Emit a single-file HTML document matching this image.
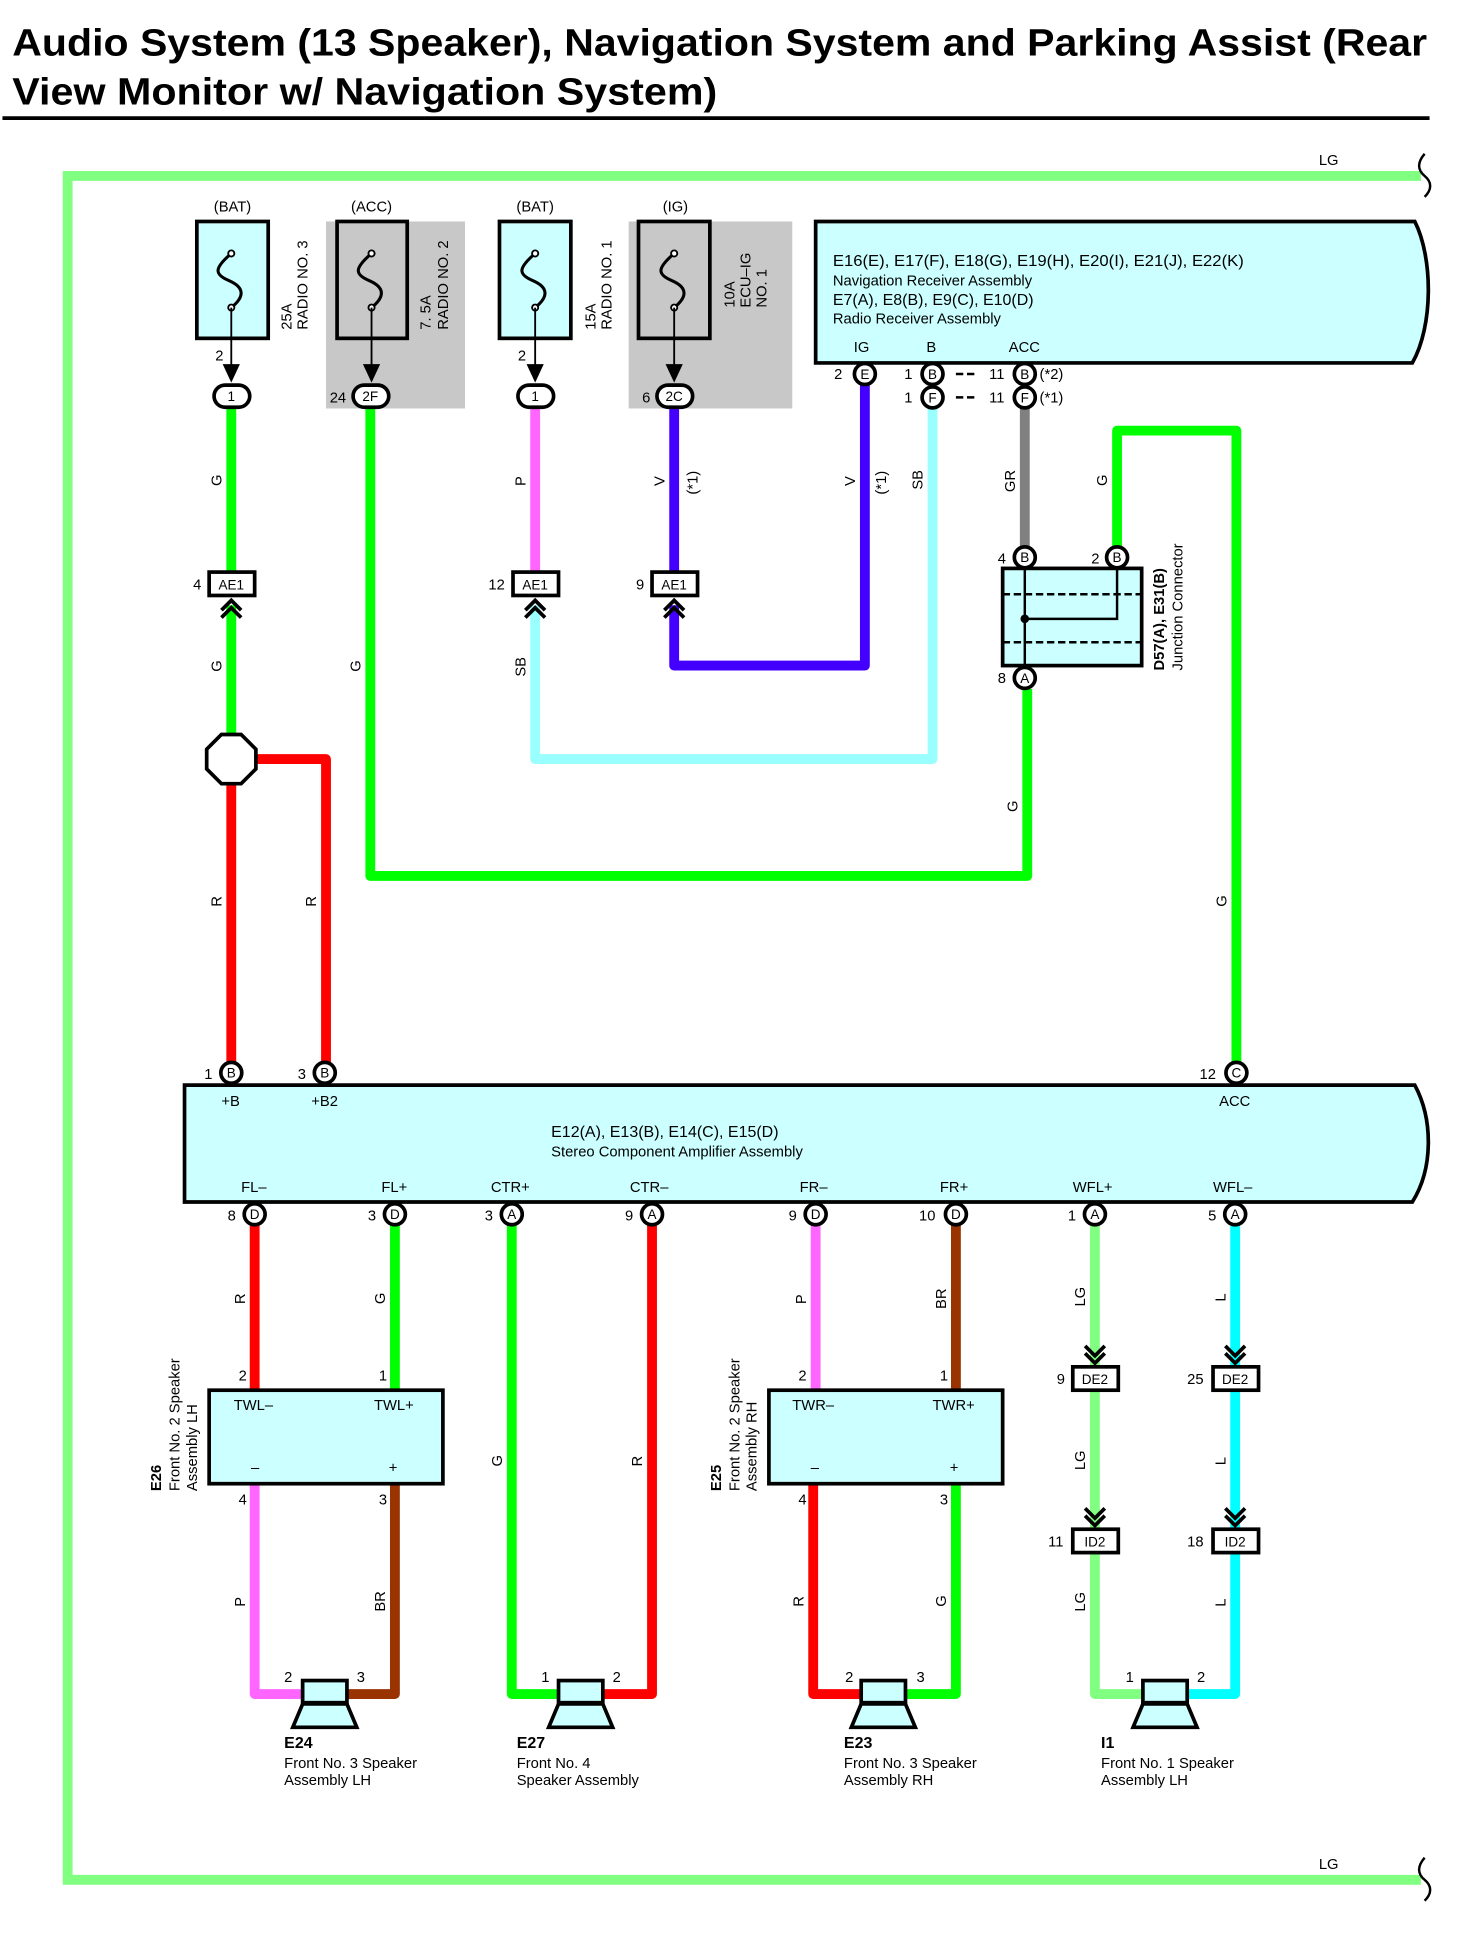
<!DOCTYPE html>
<html><head><meta charset="utf-8"><style>
html,body{margin:0;padding:0;background:#fff;}
svg{display:block;}
text{font-family:"Liberation Sans",sans-serif;fill:#000;}
</style></head><body>
<svg width="1464" height="1950" viewBox="0 0 1190 1585" xmlns="http://www.w3.org/2000/svg">
<defs>
<g id="fuse"><path d="M0,-22 C-14,-10 -14,-5 -2,0 C12,6 10,14 0,22" fill="none" stroke="#000" stroke-width="2.5"/><circle cx="0" cy="-22" r="2.5" fill="#fff" stroke="#000" stroke-width="1.5"/><circle cx="0" cy="22" r="2.5" fill="#fff" stroke="#000" stroke-width="1.5"/></g>
<g id="spk"><rect x="-18" y="-11" width="36" height="18" fill="#ccffff" stroke="#000" stroke-width="3"/><path d="M-18,8 L18,8 L26,27 L-26,27 Z" fill="#ccffff" stroke="#000" stroke-width="3"/></g>
<g id="chevU"><path d="M-8,8 L0,0 L8,8 M-8,14 L0,6 L8,14" fill="none" stroke="#000" stroke-width="3"/></g>
<g id="chevD"><path d="M-8,-8 L0,0 L8,-8 M-8,-14 L0,-6 L8,-14" fill="none" stroke="#000" stroke-width="3"/></g>
</defs>

<!-- Title -->
<text x="10" y="45" font-size="31" font-weight="bold" textLength="1150" lengthAdjust="spacingAndGlyphs">Audio System (13 Speaker), Navigation System and Parking Assist (Rear</text>
<text x="10" y="85" font-size="31" font-weight="bold" textLength="573" lengthAdjust="spacingAndGlyphs">View Monitor w/ Navigation System)</text>
<line x1="2" y1="96" x2="1162" y2="96" stroke="#000" stroke-width="3"/>

<!-- LG frame -->
<path d="M1155,143 L55,143 L55,1528 L1155,1528" fill="none" stroke="#80ff80" stroke-width="8"/>
<path d="M1158,125 C1152,132 1152,138 1158,143 C1164,148 1164,154 1158,160" fill="none" stroke="#000" stroke-width="2"/>
<path d="M1158,1510 C1152,1517 1152,1523 1158,1528 C1164,1533 1164,1539 1158,1545" fill="none" stroke="#000" stroke-width="2"/>
<text x="1072" y="134" font-size="12">LG</text>
<text x="1072" y="1519" font-size="12">LG</text>

<!-- gray areas -->
<rect x="265" y="180" width="113" height="152" fill="#c8c8c8"/>
<rect x="511" y="180" width="133" height="152" fill="#c8c8c8"/>

<!-- wires upper -->
<g fill="none" stroke-width="8" stroke-linejoin="round">
<path d="M188,330 L188,466" stroke="#00ff00"/>
<path d="M188,492 L188,600" stroke="#00ff00"/>
<path d="M188,635 L188,864 M205,617 L265,617 L265,864" stroke="#ff0000"/>
<path d="M301,330 L301,712 L835,712 L835,560" stroke="#00ff00"/>
<path d="M435,330 L435,466" stroke="#ff66ff"/>
<path d="M435,492 L435,617 L758,617 L758,330" stroke="#99ffff"/>
<path d="M548,330 L548,466" stroke="#4400ff"/>
<path d="M548,492 L548,541 L703,541 L703,313" stroke="#4400ff"/>
<path d="M833,331 L833,445" stroke="#808080"/>
<path d="M908,445 L908,350 L1005,350 L1005,864" stroke="#00ff00"/>
</g>

<!-- fuses -->
<rect x="160" y="180" width="58" height="95" fill="#ccffff" stroke="#000" stroke-width="3"/>
<rect x="274" y="180" width="57" height="95" fill="#c8c8c8" stroke="#000" stroke-width="3"/>
<rect x="406" y="180" width="58" height="95" fill="#ccffff" stroke="#000" stroke-width="3"/>
<rect x="519" y="180" width="58" height="95" fill="#c8c8c8" stroke="#000" stroke-width="3"/>
<use href="#fuse" x="188" y="228"/><use href="#fuse" x="302" y="228"/><use href="#fuse" x="435" y="228"/><use href="#fuse" x="548" y="228"/>
<g stroke="#000" stroke-width="1.5">
<line x1="188" y1="250" x2="188" y2="305"/><line x1="302" y1="250" x2="302" y2="305"/><line x1="435" y1="250" x2="435" y2="305"/><line x1="548" y1="250" x2="548" y2="305"/>
</g>
<g fill="#000">
<path d="M181,296 L195,296 L188,311 Z"/><path d="M295,296 L309,296 L302,311 Z"/><path d="M428,296 L442,296 L435,311 Z"/><path d="M541,296 L555,296 L548,311 Z"/>
</g>
<g font-size="12" text-anchor="middle">
<text x="189" y="172">(BAT)</text><text x="302" y="172">(ACC)</text><text x="435" y="172">(BAT)</text><text x="549" y="172">(IG)</text>
</g>
<g font-size="12">
<text transform="translate(237,268) rotate(-90)">25A</text><text transform="translate(250,268) rotate(-90)">RADIO NO. 3</text>
<text transform="translate(350,268) rotate(-90)">7. 5A</text><text transform="translate(364,268) rotate(-90)">RADIO NO. 2</text>
<text transform="translate(484,268) rotate(-90)">15A</text><text transform="translate(497,268) rotate(-90)">RADIO NO. 1</text>
<text transform="translate(597,250) rotate(-90)">10A</text><text transform="translate(610,250) rotate(-90)">ECU–IG</text><text transform="translate(623,250) rotate(-90)">NO. 1</text>
<text x="175" y="293">2</text><text x="421" y="293">2</text>
<text x="268" y="327">24</text><text x="522" y="327">6</text>
</g>
<!-- fuse connectors -->
<g stroke="#000" stroke-width="3" fill="#fff">
<rect x="174" y="313" width="29" height="18" rx="9"/><rect x="287" y="313" width="29" height="18" rx="9"/>
<rect x="421" y="313" width="29" height="18" rx="9"/><rect x="534" y="313" width="29" height="18" rx="9"/>
</g>
<g font-size="11" text-anchor="middle">
<text x="188" y="326">1</text><text x="301" y="326">2F</text><text x="435" y="326">1</text><text x="548" y="326">2C</text>
</g>

<!-- Nav box -->
<path d="M663,180 L1150,180 C1165,210 1165,265 1148,295 L663,295 Z" fill="#ccffff" stroke="#000" stroke-width="3"/>
<g font-size="13">
<text x="677" y="216" textLength="334" lengthAdjust="spacingAndGlyphs">E16(E), E17(F), E18(G), E19(H), E20(I), E21(J), E22(K)</text>
<text x="677" y="232" font-size="12">Navigation Receiver Assembly</text>
<text x="677" y="248">E7(A), E8(B), E9(C), E10(D)</text>
<text x="677" y="263" font-size="12">Radio Receiver Assembly</text>
<text x="694" y="286" font-size="12">IG</text><text x="753" y="286" font-size="12">B</text><text x="820" y="286" font-size="12">ACC</text>
</g>
<g stroke="#000" stroke-width="3" fill="#fff">
<circle cx="703" cy="304" r="8.5"/><circle cx="758" cy="304" r="8.5"/><circle cx="833" cy="304" r="8.5"/>
<circle cx="758" cy="323" r="8.5"/><circle cx="833" cy="323" r="8.5"/>
</g>
<g font-size="11" text-anchor="middle">
<text x="703" y="308">E</text><text x="758" y="308">B</text><text x="833" y="308">B</text><text x="758" y="327">F</text><text x="833" y="327">F</text>
</g>
<g font-size="12">
<text x="678" y="308">2</text><text x="735" y="308">1</text><text x="735" y="327">1</text>
<text x="804" y="308">11</text><text x="804" y="327">11</text>
<text x="845" y="308">(*2)</text><text x="845" y="327">(*1)</text>
</g>
<g stroke="#000" stroke-width="2"><line x1="777" y1="304" x2="795" y2="304" stroke-dasharray="6,3"/><line x1="777" y1="323" x2="795" y2="323" stroke-dasharray="6,3"/></g>

<!-- AE1 connectors -->
<g stroke="#000" stroke-width="3" fill="#fff">
<rect x="170" y="465" width="37" height="19"/><rect x="417" y="465" width="37" height="19"/><rect x="530" y="465" width="37" height="19"/>
</g>
<g font-size="11" text-anchor="middle"><text x="188" y="479">AE1</text><text x="435" y="479">AE1</text><text x="548" y="479">AE1</text></g>
<g font-size="12"><text x="157" y="479">4</text><text x="397" y="479">12</text><text x="517" y="479">9</text></g>
<use href="#chevU" x="188" y="488"/><use href="#chevU" x="435" y="488"/><use href="#chevU" x="548" y="488"/>

<!-- splice -->
<path d="M180,597 L196,597 L208,609 L208,625 L196,637 L180,637 L168,625 L168,609 Z" fill="#fff" stroke="#000" stroke-width="3"/>

<!-- Junction connector -->
<rect x="815" y="462" width="113" height="79" fill="#ccffff" stroke="#000" stroke-width="3"/>
<g stroke="#000" stroke-width="2"><line x1="815" y1="483" x2="928" y2="483" stroke-dasharray="6,3"/><line x1="815" y1="522" x2="928" y2="522" stroke-dasharray="6,3"/>
<path d="M833,462 L833,541 M908,462 L908,503 L833,503" fill="none"/></g>
<circle cx="833" cy="503" r="3.5" fill="#000"/>
<g stroke="#000" stroke-width="3" fill="#fff"><circle cx="833" cy="453" r="8.5"/><circle cx="908" cy="453" r="8.5"/><circle cx="833" cy="551" r="8.5"/></g>
<g font-size="11" text-anchor="middle"><text x="833" y="457">B</text><text x="908" y="457">B</text><text x="833" y="555">A</text></g>
<g font-size="12"><text x="811" y="458">4</text><text x="887" y="458">2</text><text x="811" y="555">8</text></g>
<text transform="translate(946,545) rotate(-90)" font-size="12" font-weight="bold">D57(A), E31(B)</text>
<text transform="translate(961,545) rotate(-90)" font-size="12">Junction Connector</text>

<!-- wire labels upper -->
<g font-size="12">
<text transform="translate(180,395) rotate(-90)">G</text>
<text transform="translate(180,546) rotate(-90)">G</text>
<text transform="translate(180,737) rotate(-90)">R</text>
<text transform="translate(257,737) rotate(-90)">R</text>
<text transform="translate(293,546) rotate(-90)">G</text>
<text transform="translate(427,395) rotate(-90)">P</text>
<text transform="translate(427,550) rotate(-90)">SB</text>
<text transform="translate(540,395) rotate(-90)">V</text>
<text transform="translate(567,402) rotate(-90)">(*1)</text>
<text transform="translate(695,395) rotate(-90)">V</text>
<text transform="translate(720,402) rotate(-90)">(*1)</text>
<text transform="translate(750,398) rotate(-90)">SB</text>
<text transform="translate(825,400) rotate(-90)">GR</text>
<text transform="translate(900,395) rotate(-90)">G</text>
<text transform="translate(827,660) rotate(-90)">G</text>
<text transform="translate(997,737) rotate(-90)">G</text>
</g>

<!-- lower wires -->
<g fill="none" stroke-width="8" stroke-linejoin="round">
<path d="M207,995 L207,1130" stroke="#ff0000"/>
<path d="M207,1206 L207,1377 L245,1377" stroke="#ff66ff"/>
<path d="M321,995 L321,1130" stroke="#00ff00"/>
<path d="M321,1206 L321,1377 L282,1377" stroke="#993300"/>
<path d="M416,995 L416,1377 L455,1377" stroke="#00ff00"/>
<path d="M530,995 L530,1377 L490,1377" stroke="#ff0000"/>
<path d="M663,995 L663,1130" stroke="#ff66ff"/>
<path d="M777,995 L777,1130" stroke="#993300"/>
<path d="M661,1206 L661,1377 L700,1377" stroke="#ff0000"/>
<path d="M777,1206 L777,1377 L737,1377" stroke="#00ff00"/>
<path d="M890,995 L890,1112 M890,1129 L890,1244 M890,1262 L890,1377 L929,1377" stroke="#80ff80"/>
<path d="M1004,995 L1004,1112 M1004,1129 L1004,1244 M1004,1262 L1004,1377 L965,1377" stroke="#00ffff"/>
</g>

<!-- Amp box -->
<path d="M150,882 L1150,882 C1165,910 1165,950 1148,977 L150,977 Z" fill="#ccffff" stroke="#000" stroke-width="3"/>
<g font-size="12">
<text x="448" y="924" font-size="13">E12(A), E13(B), E14(C), E15(D)</text>
<text x="448" y="940">Stereo Component Amplifier Assembly</text>
<text x="180" y="899">+B</text><text x="253" y="899">+B2</text><text x="991" y="899">ACC</text>
<text x="196" y="969">FL–</text><text x="310" y="969">FL+</text><text x="399" y="969">CTR+</text><text x="512" y="969">CTR–</text>
<text x="650" y="969">FR–</text><text x="764" y="969">FR+</text><text x="872" y="969">WFL+</text><text x="986" y="969">WFL–</text>
</g>
<g stroke="#000" stroke-width="3" fill="#fff">
<circle cx="188" cy="872" r="8.5"/><circle cx="264" cy="872" r="8.5"/><circle cx="1005" cy="872" r="8.5"/>
<circle cx="207" cy="987" r="8.5"/><circle cx="321" cy="987" r="8.5"/><circle cx="416" cy="987" r="8.5"/><circle cx="530" cy="987" r="8.5"/>
<circle cx="663" cy="987" r="8.5"/><circle cx="777" cy="987" r="8.5"/><circle cx="890" cy="987" r="8.5"/><circle cx="1004" cy="987" r="8.5"/>
</g>
<g font-size="11" text-anchor="middle">
<text x="188" y="876">B</text><text x="264" y="876">B</text><text x="1005" y="876">C</text>
<text x="207" y="991">D</text><text x="321" y="991">D</text><text x="416" y="991">A</text><text x="530" y="991">A</text>
<text x="663" y="991">D</text><text x="777" y="991">D</text><text x="890" y="991">A</text><text x="1004" y="991">A</text>
</g>
<g font-size="12">
<text x="166" y="877">1</text><text x="242" y="877">3</text><text x="975" y="877">12</text>
<text x="185" y="992">8</text><text x="299" y="992">3</text><text x="394" y="992">3</text><text x="508" y="992">9</text>
<text x="641" y="992">9</text><text x="747" y="992">10</text><text x="868" y="992">1</text><text x="982" y="992">5</text>
</g>

<!-- tweeters -->
<rect x="170" y="1130" width="190" height="76" fill="#ccffff" stroke="#000" stroke-width="3"/>
<rect x="625" y="1130" width="190" height="76" fill="#ccffff" stroke="#000" stroke-width="3"/>
<g font-size="12">
<text x="190" y="1146">TWL–</text><text x="304" y="1146">TWL+</text><text x="204" y="1197">–</text><text x="316" y="1197">+</text>
<text x="644" y="1146">TWR–</text><text x="758" y="1146">TWR+</text><text x="659" y="1197">–</text><text x="772" y="1197">+</text>
<text x="194" y="1122">2</text><text x="308" y="1122">1</text><text x="194" y="1223">4</text><text x="308" y="1223">3</text>
<text x="649" y="1122">2</text><text x="764" y="1122">1</text><text x="649" y="1223">4</text><text x="764" y="1223">3</text>
</g>
<text transform="translate(131,1212) rotate(-90)" font-size="12" font-weight="bold">E26</text>
<text transform="translate(146,1212) rotate(-90)" font-size="12">Front No. 2 Speaker</text>
<text transform="translate(160,1212) rotate(-90)" font-size="12">Assembly LH</text>
<text transform="translate(586,1212) rotate(-90)" font-size="12" font-weight="bold">E25</text>
<text transform="translate(601,1212) rotate(-90)" font-size="12">Front No. 2 Speaker</text>
<text transform="translate(615,1212) rotate(-90)" font-size="12">Assembly RH</text>

<!-- DE2 / ID2 -->
<g stroke="#000" stroke-width="3" fill="#fff">
<rect x="872" y="1111" width="37" height="19"/><rect x="986" y="1111" width="37" height="19"/>
<rect x="872" y="1243" width="37" height="19"/><rect x="986" y="1243" width="37" height="19"/>
</g>
<g font-size="11" text-anchor="middle"><text x="890" y="1125">DE2</text><text x="1004" y="1125">DE2</text><text x="890" y="1257">ID2</text><text x="1004" y="1257">ID2</text></g>
<g font-size="12"><text x="859" y="1125">9</text><text x="965" y="1125">25</text><text x="852" y="1257">11</text><text x="965" y="1257">18</text></g>
<use href="#chevD" x="890" y="1108"/><use href="#chevD" x="1004" y="1108"/><use href="#chevD" x="890" y="1240"/><use href="#chevD" x="1004" y="1240"/>

<!-- lower wire labels -->
<g font-size="12">
<text transform="translate(199,1060) rotate(-90)">R</text>
<text transform="translate(313,1060) rotate(-90)">G</text>
<text transform="translate(199,1306) rotate(-90)">P</text>
<text transform="translate(313,1310) rotate(-90)">BR</text>
<text transform="translate(408,1192) rotate(-90)">G</text>
<text transform="translate(522,1192) rotate(-90)">R</text>
<text transform="translate(655,1060) rotate(-90)">P</text>
<text transform="translate(769,1064) rotate(-90)">BR</text>
<text transform="translate(653,1306) rotate(-90)">R</text>
<text transform="translate(769,1306) rotate(-90)">G</text>
<text transform="translate(882,1062) rotate(-90)">LG</text>
<text transform="translate(996,1058) rotate(-90)">L</text>
<text transform="translate(882,1195) rotate(-90)">LG</text>
<text transform="translate(996,1191) rotate(-90)">L</text>
<text transform="translate(882,1310) rotate(-90)">LG</text>
<text transform="translate(996,1306) rotate(-90)">L</text>
</g>

<!-- speakers -->
<use href="#spk" x="264" y="1377"/><use href="#spk" x="472" y="1377"/><use href="#spk" x="718" y="1377"/><use href="#spk" x="947" y="1377"/>
<g font-size="12">
<text x="231" y="1367">2</text><text x="290" y="1367">3</text>
<text x="440" y="1367">1</text><text x="498" y="1367">2</text>
<text x="687" y="1367">2</text><text x="745" y="1367">3</text>
<text x="915" y="1367">1</text><text x="973" y="1367">2</text>
</g>
<g font-size="13">
<text x="231" y="1421" font-weight="bold">E24</text><text x="231" y="1437" font-size="12">Front No.  3 Speaker</text><text x="231" y="1451" font-size="12">Assembly LH</text>
<text x="420" y="1421" font-weight="bold">E27</text><text x="420" y="1437" font-size="12">Front No.  4</text><text x="420" y="1451" font-size="12">Speaker Assembly</text>
<text x="686" y="1421" font-weight="bold">E23</text><text x="686" y="1437" font-size="12">Front No.  3 Speaker</text><text x="686" y="1451" font-size="12">Assembly RH</text>
<text x="895" y="1421" font-weight="bold">I1</text><text x="895" y="1437" font-size="12">Front No.  1 Speaker</text><text x="895" y="1451" font-size="12">Assembly LH</text>
</g>
</svg>
</body></html>
